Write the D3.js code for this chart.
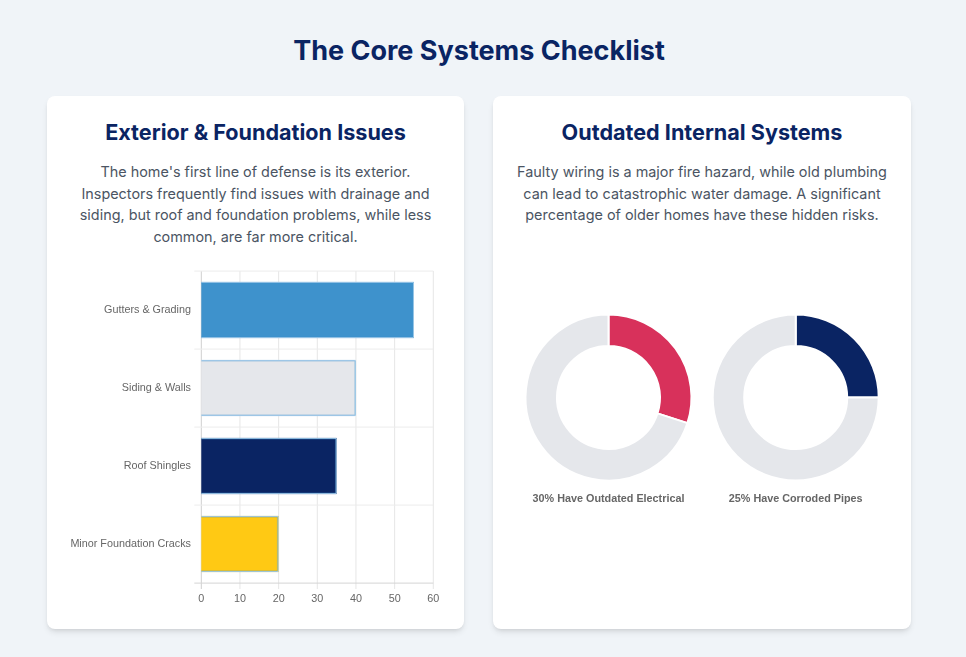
<!DOCTYPE html>
<html><head><meta charset="utf-8">
<script src="https://cdn.jsdelivr.net/npm/d3@7"></script>
<style>
html,body{margin:0;padding:0;background:#f0f4f8;width:966px;height:657px;overflow:hidden;font-family:Inter,sans-serif}
h1{position:absolute;left:0;width:958px;top:33px;margin:0;text-align:center;font-size:27px;line-height:36px;font-weight:700;color:#0a2463}
.card{position:absolute;top:96px;height:533px;background:#fff;border-radius:8px;box-shadow:0 4px 6px -1px rgba(0,0,0,.1),0 2px 4px -2px rgba(0,0,0,.1)}
.card h2{position:absolute;left:0;right:0;top:22px;margin:0;text-align:center;font-size:21.6px;line-height:28px;font-weight:700;color:#0a2463}
.card p{position:absolute;left:24px;right:24px;top:65px;margin:0;text-align:center;font-size:14.4px;line-height:21.6px;color:#4b5563}
#c1{left:47px;width:417px}#c2{left:493px;width:418px}
svg{position:absolute;left:0;top:0;filter:blur(.3px)}
</style></head><body>
<h1>The Core Systems Checklist</h1>
<div class="card" id="c1"><h2>Exterior &amp; Foundation Issues</h2><p>The home's first line of defense is its exterior. Inspectors frequently find issues with drainage and siding, but roof and foundation problems, while less common, are far more critical.</p></div>
<div class="card" id="c2"><h2>Outdated Internal Systems</h2><p>Faulty wiring is a major fire hazard, while old plumbing can lead to catastrophic water damage. A significant percentage of older homes have these hidden risks.</p></div>
<svg id="s" width="966" height="657"></svg>
<script>
const categories=["Gutters & Grading","Siding & Walls","Roof Shingles","Minor Foundation Cracks"];
const issueValues=[55,40,35,20];
const barColors=["#3e92cc","#e5e7eb","#0a2463","#ffc914"];
const xTicks=[0,10,20,30,40,50,60];
const donutLabels=["30% Have Outdated Electrical","25% Have Corroded Pipes"];
const donutValues=[30,25];
const donutRest=[70,75];
const donutColors=["#d8315b","#0a2463"];
const restColor="#e5e7eb";

const svg=d3.select("#s");
const left=201.3,right=433.3,top0=271,bottom=583;
const x=d3.scaleLinear().domain([0,60]).range([left,right]);
const y=d3.scaleBand().domain(categories).range([top0,bottom]).paddingInner(0).paddingOuter(0);
const barH=y.bandwidth()*0.72;
const grid=svg.append("g");
xTicks.forEach(t=>grid.append("line").attr("x1",x(t)).attr("x2",x(t)).attr("y1",top0).attr("y2",bottom+6)
  .attr("stroke",t===0?"#cfcfcf":"#e6e6e6"));
[...categories.map(c=>y(c)),bottom].forEach((v,i)=>grid.append("line").attr("x1",left-7).attr("x2",right).attr("y1",v+.1).attr("y2",v+.1)
  .attr("stroke",i===4?"#d4d4d4":"#ececec"));
const bars=svg.append("g");
const barTop=c=>y(c)+(y.bandwidth()-barH)/2;
bars.selectAll("rect.b").data(categories).join("rect").attr("class","b")
  .attr("x",left).attr("y",barTop)
  .attr("width",(c,i)=>x(issueValues[i])-left).attr("height",barH)
  .attr("fill",(c,i)=>barColors[i]);
const edge=(c,i,inset)=>{const t=barTop(c)+inset,b=barTop(c)+barH-inset,r=x(issueValues[i])-inset;return `M${left},${t}H${r}V${b}H${left}`;};
bars.selectAll("path.o").data(categories).join("path").attr("class","o")
  .attr("d",(c,i)=>edge(c,i,.5)).attr("fill","none").attr("stroke","#a5cdea").attr("stroke-width",1);
bars.selectAll("path.n").data(categories).join("path").attr("class","n")
  .attr("d",(c,i)=>edge(c,i,1.2)).attr("fill","none").attr("stroke","#3e92cc").attr("stroke-opacity",.45).attr("stroke-width",.7);
const font="'Liberation Sans',Arial,sans-serif";
svg.append("g").selectAll("text").data(categories).join("text")
  .attr("x",191).attr("y",c=>y(c)+y.bandwidth()/2-1).attr("dy","0.35em").attr("text-anchor","end")
  .attr("font-family",font).attr("font-size",10.8).attr("fill","#666").text(c=>c);
svg.append("g").selectAll("text").data(xTicks).join("text")
  .attr("x",t=>x(t)).attr("y",598).attr("dy","0.35em").attr("text-anchor","middle")
  .attr("font-family",font).attr("font-size",10.8).attr("fill","#666").text(t=>t);

const cx=[608.5,795.7],cy=397.5,R=83,r=51.5;
const pie=d3.pie().sort(null).value(d=>d);
const arc=d3.arc().innerRadius(r).outerRadius(R);
donutValues.forEach((v,i)=>{
  const g=svg.append("g").attr("transform",`translate(${cx[i]},${cy})`);
  g.selectAll("path").data(pie([v,donutRest[i]])).join("path").attr("d",arc)
    .attr("fill",(d,j)=>j===0?donutColors[i]:restColor).attr("stroke","#fff").attr("stroke-width",2);
  svg.append("text").attr("x",cx[i]).attr("y",498).attr("dy","0.35em").attr("text-anchor","middle")
    .attr("font-family",font).attr("font-size",10.8).attr("font-weight",700).attr("fill","#666").text(donutLabels[i]);
});
</script></body></html>
